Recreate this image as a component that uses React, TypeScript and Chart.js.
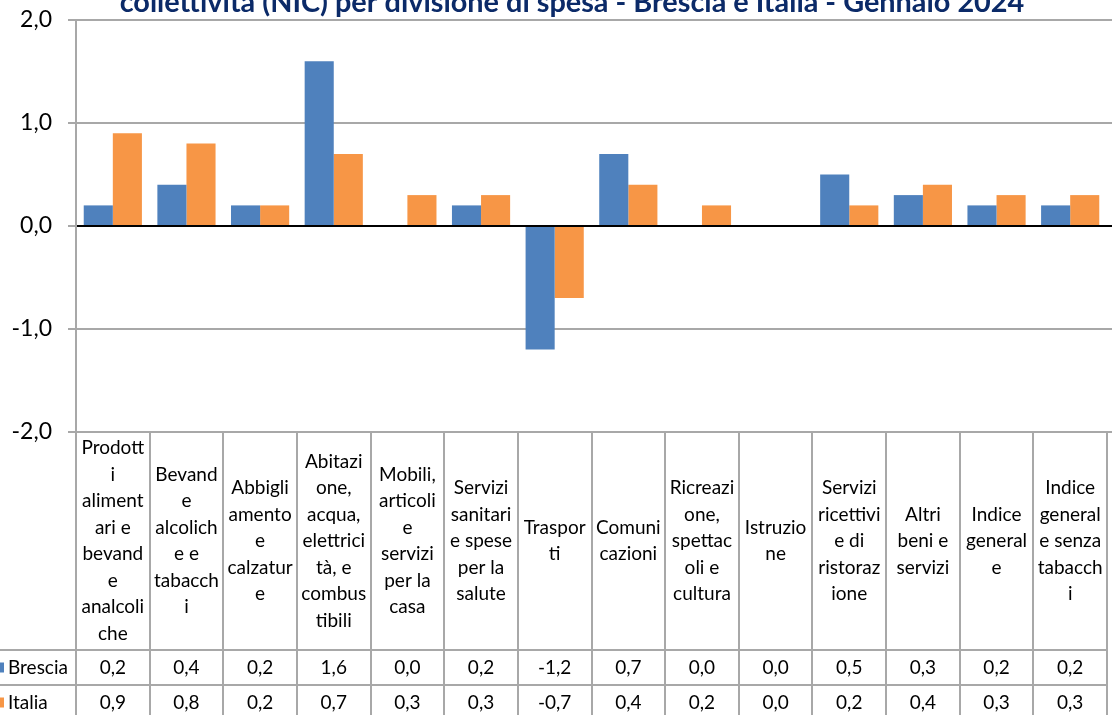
import React, { useEffect, useRef } from "react";
import { Chart, registerables } from "chart.js";

Chart.register(...registerables);

const TITLE = "collettività (NIC) per divisione di spesa - Brescia e Italia - Gennaio 2024";

const categories: string[][] = [
  ["Prodott", "i", "aliment", "ari e", "bevand", "e", "analcoli", "che"],
  ["Bevand", "e", "alcolich", "e e", "tabacch", "i"],
  ["Abbigli", "amento", "e", "calzatur", "e"],
  ["Abitazi", "one,", "acqua,", "elettrici", "tà, e", "combus", "tibili"],
  ["Mobili,", "articoli", "e", "servizi", "per la", "casa"],
  ["Servizi", "sanitari", "e spese", "per la", "salute"],
  ["Traspor", "ti"],
  ["Comuni", "cazioni"],
  ["Ricreazi", "one,", "spettac", "oli e", "cultura"],
  ["Istruzio", "ne"],
  ["Servizi", "ricettivi", "e di", "ristoraz", "ione"],
  ["Altri", "beni e", "servizi"],
  ["Indice", "general", "e"],
  ["Indice", "general", "e senza", "tabacch", "i"],
];

const seriesNames = ["Brescia", "Italia"];
const brescia = [0.2, 0.4, 0.2, 1.6, 0.0, 0.2, -1.2, 0.7, 0.0, 0.0, 0.5, 0.3, 0.2, 0.2];
const italia = [0.9, 0.8, 0.2, 0.7, 0.3, 0.3, -0.7, 0.4, 0.2, 0.0, 0.2, 0.4, 0.3, 0.3];
const seriesColors = ["#4F81BD", "#F79646"];

const yMin = -2;
const yMax = 2;
const yStep = 1;

const FONT = "Lato, 'Noto Sans', sans-serif";
const GRID = "#A8A8A8";

const fmt = (v: number) => v.toFixed(1).replace(".", ",");

const tablePlugin = {
  id: "tablePlugin",
  afterDatasetsDraw(chart: any) {
    const ctx = chart.ctx;
    const ca = chart.chartArea;
    const y = chart.scales.y;
    const W = chart.width;
    ctx.save();
    ctx.lineWidth = 2;
    ctx.strokeStyle = GRID;
    for (let v = yMin; v <= yMax; v += yStep) {
      if (v === 0) continue;
      const py = Math.round(y.getPixelForValue(v));
      ctx.beginPath();
      ctx.moveTo(ca.right, py);
      ctx.lineTo(W, py);
      ctx.stroke();
    }
    const zy = Math.round(y.getPixelForValue(0));
    ctx.strokeStyle = "#000000";
    ctx.lineWidth = 2;
    ctx.beginPath();
    ctx.moveTo(ca.left, zy);
    ctx.lineTo(W, zy);
    ctx.stroke();
    ctx.restore();
  },
  afterDraw(chart: any) {
    const ctx = chart.ctx;
    const ca = chart.chartArea;
    const xs = chart.scales.x;
    const H = chart.height;
    const n = categories.length;
    const half = (xs.getPixelForValue(1) - xs.getPixelForValue(0)) / 2;
    const bounds: number[] = [];
    for (let i = 0; i <= n; i++) {
      bounds.push(i < n ? xs.getPixelForValue(i) - half : xs.getPixelForValue(n - 1) + half);
    }
    const top = ca.bottom;
    const row1 = top + 218;
    const row2 = row1 + 35;
    const row3 = row2 + 35;

    ctx.save();
    ctx.strokeStyle = GRID;
    ctx.lineWidth = 2;
    ctx.beginPath();
    ctx.moveTo(Math.round(bounds[0]), ca.top);
    ctx.lineTo(Math.round(bounds[0]), H);
    ctx.stroke();
    for (let i = 1; i <= n; i++) {
      const bx = Math.round(bounds[i]);
      ctx.beginPath();
      ctx.moveTo(bx, top);
      ctx.lineTo(bx, H);
      ctx.stroke();
    }
    [row1, row2, row3].forEach((ry) => {
      ctx.beginPath();
      ctx.moveTo(0, ry);
      ctx.lineTo(Math.round(bounds[n]), ry);
      ctx.stroke();
    });

    ctx.fillStyle = "#000000";
    ctx.font = `19px ${FONT}`;
    ctx.textAlign = "center";
    ctx.textBaseline = "middle";
    const lh = 26.5;
    const midY = (top + row1) / 2;
    categories.forEach((lines, i) => {
      const cx = (bounds[i] + bounds[i + 1]) / 2;
      const y0 = midY - ((lines.length - 1) * lh) / 2;
      lines.forEach((t, k) => ctx.fillText(t, cx, y0 + k * lh));
    });

    const rows = [brescia, italia];
    const rowTops = [row1, row2];
    rows.forEach((vals, r) => {
      const cy = rowTops[r] + 17.5;
      ctx.textAlign = "center";
      vals.forEach((v, i) => {
        ctx.fillText(fmt(v), (bounds[i] + bounds[i + 1]) / 2, cy);
      });
      ctx.fillStyle = seriesColors[r];
      ctx.fillRect(0, cy - 5, 4, 10);
      ctx.fillStyle = "#000000";
      ctx.textAlign = "left";
      ctx.fillText(seriesNames[r], 8, cy);
    });

    ctx.fillStyle = "#0B2A68";
    ctx.textAlign = "center";
    ctx.textBaseline = "alphabetic";
    ctx.font = `bold 100px ${FONT}`;
    const w100 = ctx.measureText(TITLE).width;
    const size = (100 * 905) / w100;
    ctx.font = `bold ${size}px ${FONT}`;
    ctx.fillText(TITLE, 572, 12);
    ctx.restore();
  },
};

export default function App() {
  const ref = useRef<HTMLCanvasElement>(null);
  useEffect(() => {
    if (!ref.current) return;
    const chart = new Chart(ref.current, {
      type: "bar",
      data: {
        labels: categories.map((c) => c.join(" ")),
        datasets: [
          { label: seriesNames[0], data: brescia, backgroundColor: seriesColors[0] },
          { label: seriesNames[1], data: italia, backgroundColor: seriesColors[1] },
        ],
      },
      options: {
        animation: false,
        responsive: false,
        layout: { padding: { top: 20, bottom: 283, left: 0, right: 5 } },
        datasets: { bar: { categoryPercentage: 0.79, barPercentage: 1 } },
        plugins: { legend: { display: false }, tooltip: { enabled: false }, title: { display: false } },
        scales: {
          x: { display: false },
          y: {
            min: yMin,
            max: yMax,
            afterFit: (s: any) => {
              s.width = 76;
              s.paddingTop = 0;
              s.paddingBottom = 0;
            },
            ticks: {
              stepSize: yStep,
              padding: 16,
              color: "#000000",
              font: { family: FONT, size: 23 },
              callback: (v: any) => fmt(Number(v)),
            },
            border: { display: false },
            grid: {
              color: (c: any) => (c.tick && c.tick.value === 0 ? "rgba(0,0,0,0)" : GRID),
              tickColor: GRID,
              lineWidth: 2,
              tickLength: 8,
            },
          },
        },
      },
      plugins: [tablePlugin],
    });
    return () => chart.destroy();
  }, []);
  return (
    <div style={{ position: "absolute", left: 0, top: 0, width: 1112, height: 715, background: "#fff" }}>
      <canvas ref={ref} width={1112} height={715} />
    </div>
  );
}
